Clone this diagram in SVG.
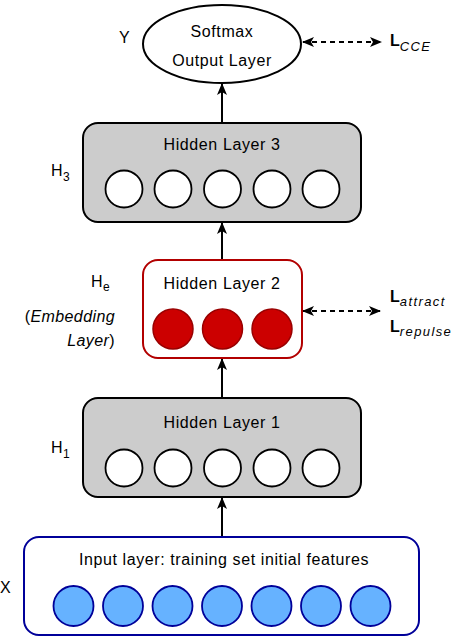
<svg xmlns="http://www.w3.org/2000/svg" width="454" height="638" viewBox="0 0 454 638">
<style>
text{font-family:"Liberation Sans",Arial,sans-serif;fill:#000}
.t{font-size:16px;letter-spacing:0.6px;text-anchor:middle}
.lab{font-size:16px;letter-spacing:0.4px}
.sub{font-size:12px}
.L{font-size:16px;font-weight:bold}
.ls{font-size:13px;font-weight:normal;font-style:italic;letter-spacing:1.4px}
.gbox{fill:#CCCCCC;stroke:#000;stroke-width:2}
.wc{fill:#fff;stroke:#000;stroke-width:1.8}
.rc{fill:#CC0000;stroke:#990000;stroke-width:1.5}
.bc{fill:#66B2FF;stroke:#000099;stroke-width:1.8}
.conn{stroke:#000;stroke-width:2;fill:none}
.dash{stroke-dasharray:5 4}
</style>
<defs>
<marker id="ar" viewBox="0 0 12 10" refX="11" refY="5" markerWidth="12" markerHeight="10" markerUnits="userSpaceOnUse" orient="auto-start-reverse">
<path d="M0,0 L12,5 L0,10 L3,5 Z" fill="#000"/>
</marker>
</defs>
<rect width="454" height="638" fill="#fff"/>
<g id="connectors">
<line class="conn" x1="222" y1="123" x2="222" y2="84" marker-end="url(#ar)"/>
<line class="conn" x1="222" y1="260" x2="222" y2="223" marker-end="url(#ar)"/>
<line class="conn" x1="222" y1="398" x2="222" y2="359" marker-end="url(#ar)"/>
<line class="conn" x1="222" y1="537" x2="222" y2="498" marker-end="url(#ar)"/>
<line class="conn dash" x1="303" y1="42" x2="381" y2="42" marker-start="url(#ar)" marker-end="url(#ar)"/>
<line class="conn dash" x1="303" y1="311" x2="380" y2="311" marker-start="url(#ar)" marker-end="url(#ar)"/>
</g>
<g id="output">
<ellipse cx="222" cy="44" rx="79" ry="39" fill="#fff" stroke="#000" stroke-width="2"/>
<text class="t" x="222" y="37">Softmax</text>
<text class="t" x="222" y="66">Output Layer</text>
<text class="lab" x="119" y="43">Y</text>
</g>
<g id="lcce">
<text class="L" x="390" y="46">L<tspan class="ls" dy="5">CCE</tspan></text>
</g>
<g id="hidden3">
<rect class="gbox" x="83" y="123" width="278" height="99" rx="15"/>
<text class="t" x="222" y="150">Hidden Layer 3</text>
<circle class="wc" cx="124" cy="189" r="18.5"/>
<circle class="wc" cx="173" cy="189" r="18.5"/>
<circle class="wc" cx="222.5" cy="189" r="18.5"/>
<circle class="wc" cx="272" cy="189" r="18.5"/>
<circle class="wc" cx="321" cy="189" r="18.5"/>
<text class="lab" x="51" y="176">H<tspan class="sub" dy="5">3</tspan></text>
</g>
<g id="hidden2">
<rect x="143" y="260" width="159" height="98" rx="15" fill="#fff" stroke="#B20000" stroke-width="2"/>
<text class="t" x="222" y="289">Hidden Layer 2</text>
<circle class="rc" cx="173" cy="329" r="20"/>
<circle class="rc" cx="222.5" cy="329" r="20"/>
<circle class="rc" cx="272" cy="329" r="20"/>
<text class="lab" x="91" y="287">H<tspan class="sub" dy="4">e</tspan></text>
<text class="lab" x="115" y="322" text-anchor="end">(<tspan font-style="italic">Embedding</tspan></text>
<text class="lab" x="115" y="346" text-anchor="end"><tspan font-style="italic">Layer</tspan>)</text>
</g>
<g id="lembed">
<text class="L" x="390" y="302">L<tspan class="ls" dy="4">attract</tspan></text>
<text class="L" x="390" y="332">L<tspan class="ls" dy="4">repulse</tspan></text>
</g>
<g id="hidden1">
<rect class="gbox" x="83" y="398" width="278" height="99" rx="15"/>
<text class="t" x="222" y="428">Hidden Layer 1</text>
<circle class="wc" cx="124" cy="468" r="18.5"/>
<circle class="wc" cx="173" cy="468" r="18.5"/>
<circle class="wc" cx="222.5" cy="468" r="18.5"/>
<circle class="wc" cx="272" cy="468" r="18.5"/>
<circle class="wc" cx="321" cy="468" r="18.5"/>
<text class="lab" x="51" y="453">H<tspan class="sub" dy="5">1</tspan></text>
</g>
<g id="input">
<rect x="24" y="537" width="395" height="98" rx="15" fill="#fff" stroke="#000099" stroke-width="2"/>
<text class="t" x="224" y="565">Input layer: training set initial features</text>
<circle class="bc" cx="73.5" cy="606" r="20"/>
<circle class="bc" cx="123" cy="606" r="20"/>
<circle class="bc" cx="172.5" cy="606" r="20"/>
<circle class="bc" cx="222" cy="606" r="20"/>
<circle class="bc" cx="271.5" cy="606" r="20"/>
<circle class="bc" cx="321" cy="606" r="20"/>
<circle class="bc" cx="370.5" cy="606" r="20"/>
<text class="lab" x="0" y="593">X</text>
</g>
</svg>
